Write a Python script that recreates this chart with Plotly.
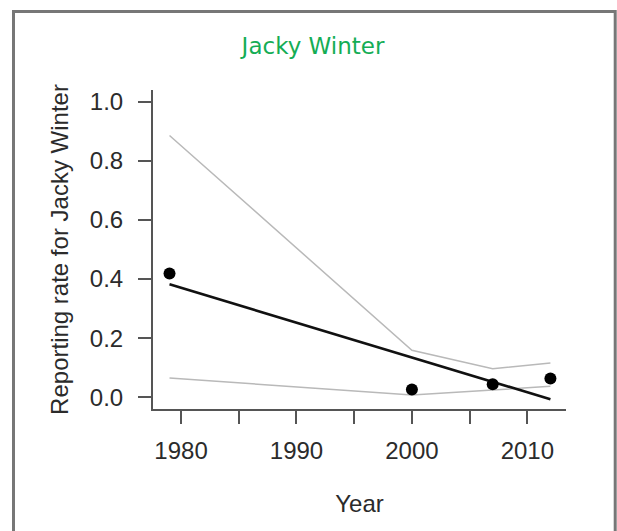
import plotly.graph_objects as go

# ---- data ----
years = [1979, 2000, 2007, 2012]
observed_rate = [0.419, 0.026, 0.044, 0.063]
fitted_rate = [0.382, 0.135, 0.052, -0.007]
upper_ci = [0.886, 0.159, 0.096, 0.116]
lower_ci = [0.065, 0.007, 0.024, 0.037]

x_tick_vals = [1980, 1985, 1990, 1995, 2000, 2005, 2010]
x_tick_text = ["1980", "", "1990", "", "2000", "", "2010"]
y_tick_vals = [0.0, 0.2, 0.4, 0.6, 0.8, 1.0]
y_tick_text = ["0.0", "0.2", "0.4", "0.6", "0.8", "1.0"]

title_text = "Jacky Winter"
x_label = "Year"
y_label = "Reporting rate for Jacky Winter"

W, H = 617, 531
ml, mr, mt, mb = 153, 51, 90, 122
pw, ph = W - ml - mr, H - mt - mb

fig = go.Figure()
ci_style = dict(color="#b9b9b9", width=1.5)
fig.add_trace(go.Scatter(x=years, y=upper_ci, mode="lines", line=ci_style, hoverinfo="skip"))
fig.add_trace(go.Scatter(x=years, y=lower_ci, mode="lines", line=ci_style, hoverinfo="skip"))
fig.add_trace(go.Scatter(x=years, y=fitted_rate, mode="lines", line=dict(color="#111111", width=2.6)))
fig.add_trace(go.Scatter(x=years, y=observed_rate, mode="markers",
                         marker=dict(color="#000000", size=12)))

axis_font = dict(family="Liberation Sans, Arial, sans-serif", size=24, color="#2b2b2b")

fig.update_layout(
    width=W, height=H,
    margin=dict(l=ml, r=mr, t=mt, b=mb, pad=0),
    paper_bgcolor="white", plot_bgcolor="white",
    showlegend=False,
    title=dict(text=title_text, x=313 / W, xanchor="center", xref="container",
               y=1 - 46 / H, yanchor="middle", yref="container",
               font=dict(family="DejaVu Sans, sans-serif", size=23, color="#14ad55")),
    xaxis=dict(range=[1977.57, 2013.35], tickvals=x_tick_vals, ticktext=x_tick_text,
               showgrid=False, zeroline=False, showline=True, linecolor="#555555", linewidth=2,
               ticks="outside", ticklen=13, tickwidth=2, tickcolor="#555555",
               tickfont=axis_font, ticklabelstandoff=6,
               title=dict(text=x_label, font=axis_font, standoff=32)),
    yaxis=dict(range=[-0.04, 1.04], tickvals=y_tick_vals, ticktext=y_tick_text,
               showgrid=False, zeroline=False, showline=True, linecolor="#555555", linewidth=2,
               ticks="outside", ticklen=13, tickwidth=2, tickcolor="#555555",
               tickfont=axis_font, ticklabelstandoff=10,
               title=dict(text=y_label, font=axis_font, standoff=14)),
    shapes=[dict(type="rect", xref="paper", yref="paper",
                 x0=(13.5 - ml) / pw, x1=(615.2 - ml) / pw,
                 y0=1 - (545 - mt) / ph, y1=1 - (11.5 - mt) / ph,
                 line=dict(color="#777777", width=3), layer="above")],
)

fig.write_html("out.html", config={"displayModeBar": False},
               post_script="document.body.style.margin='0';document.body.style.overflow='hidden';")
